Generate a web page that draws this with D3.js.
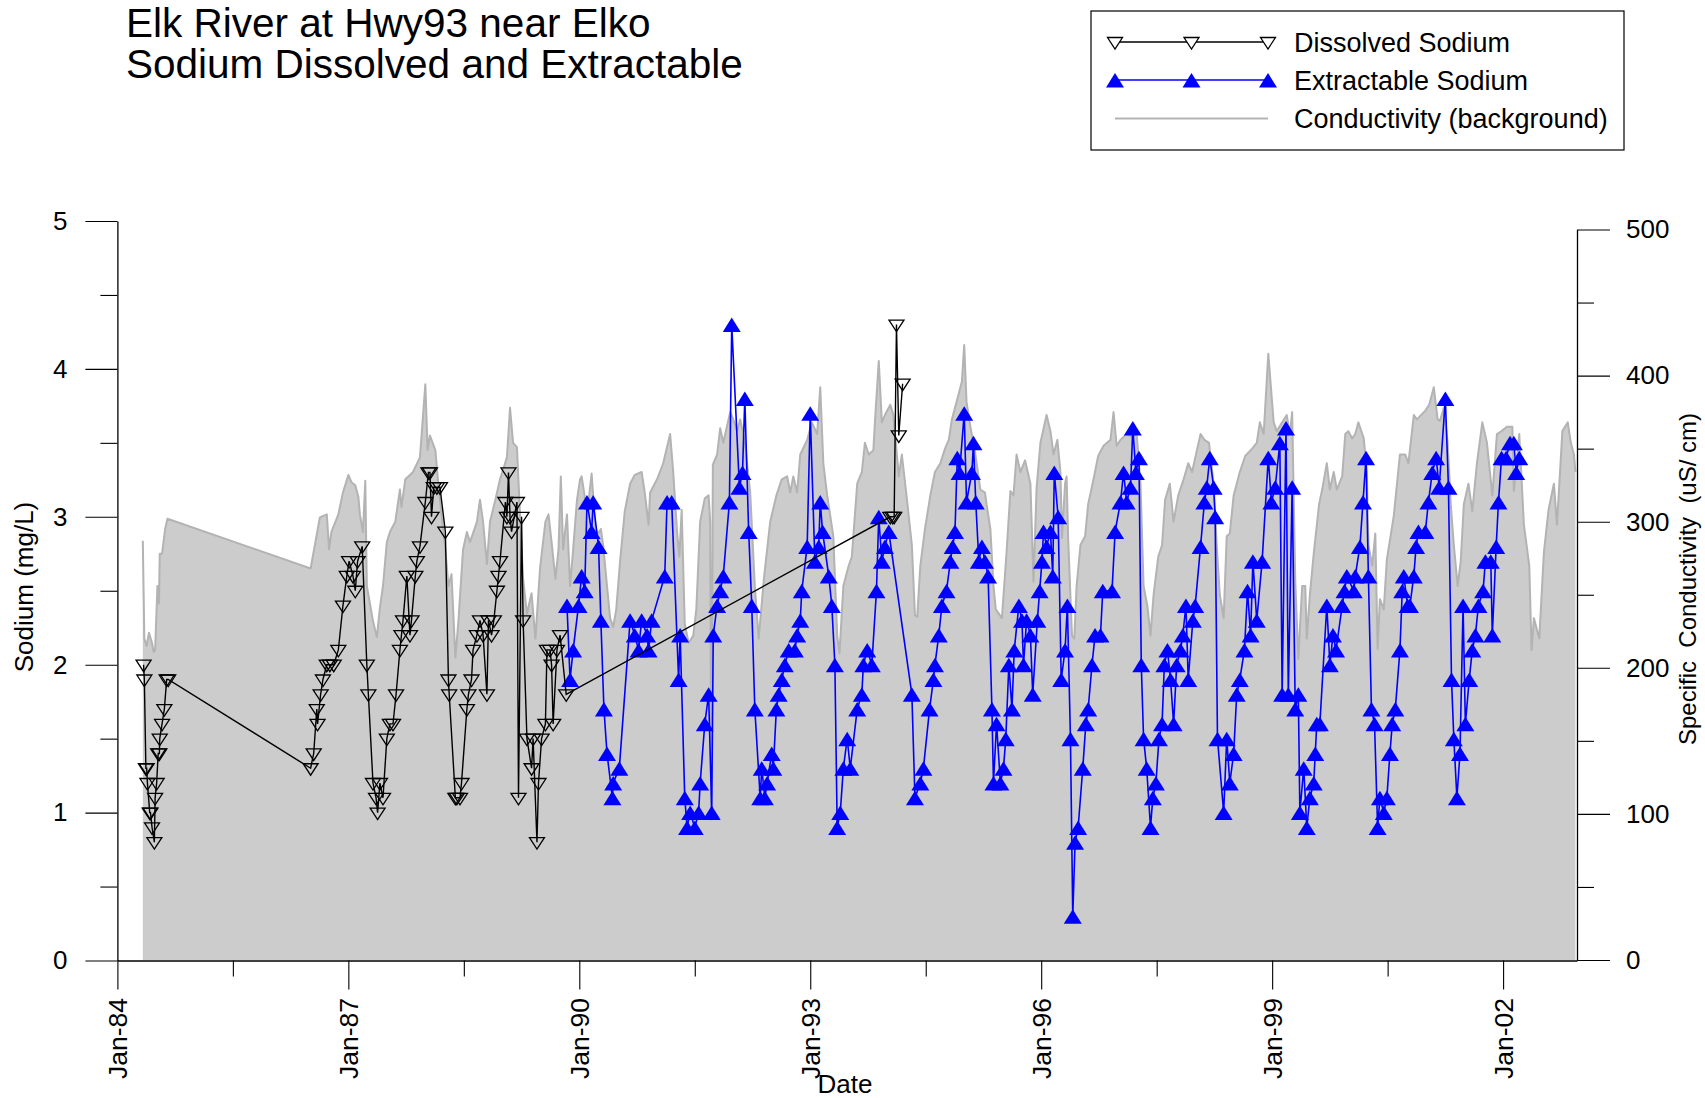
<!DOCTYPE html>
<html><head><meta charset="utf-8">
<script src="https://cdn.jsdelivr.net/npm/d3@7"></script>
<style>
body{margin:0;background:#fff}
svg text{font-family:"Liberation Sans",Arial,Helvetica,sans-serif;fill:#000}
</style>
</head><body>
<svg id="chart" width="1705" height="1098"></svg>
<script>
// ---------------- DATA ----------------
const titleLines = ["Elk River at Hwy93 near Elko", "Sodium Dissolved and Extractable"];
const legendLabels = ["Dissolved Sodium", "Extractable Sodium", "Conductivity (background)"];
const xAxisTitle = "Date";
const leftAxisTitle = "Sodium (mg/L)";
const rightAxisTitle = "Specific\u00a0 Conductivity\u00a0 (uS/ cm)";

const xTickYears = [1984, 1987, 1990, 1993, 1996, 1999, 2002];
const xTickLabels = ["Jan-84", "Jan-87", "Jan-90", "Jan-93", "Jan-96", "Jan-99", "Jan-02"];
const xMinorYears = [1985.5, 1988.5, 1991.5, 1994.5, 1997.5, 2000.5];
const leftTicks = [0, 1, 2, 3, 4, 5];
const leftMinor = [0.5, 1.5, 2.5, 3.5, 4.5];
const rightTicks = [0, 100, 200, 300, 400, 500];
const rightMinor = [50, 150, 250, 350, 450];

// [decimal year, mg/L]
const dissolvedSodium = [
[1984.34,2.0],[1984.35,1.9],[1984.37,1.3],[1984.38,1.3],[1984.39,1.2],[1984.42,1.0],[1984.43,1.0],[1984.45,0.9],[1984.48,0.8],
[1984.49,1.1],[1984.51,1.2],[1984.53,1.4],[1984.545,1.4],[1984.55,1.5],[1984.58,1.6],[1984.61,1.7],[1984.64,1.9],[1984.66,1.9],
[1986.51,1.3],[1986.55,1.4],[1986.59,1.7],[1986.60,1.6],[1986.64,1.8],[1986.67,1.9],[1986.72,2.0],[1986.76,2.0],[1986.81,2.0],
[1986.87,2.1],[1986.93,2.4],[1986.98,2.6],[1987.01,2.7],[1987.06,2.6],[1987.09,2.5],[1987.12,2.7],[1987.18,2.8],[1987.24,2.0],
[1987.26,1.8],[1987.32,1.2],[1987.36,1.1],[1987.38,1.0],[1987.41,1.2],[1987.45,1.1],[1987.50,1.5],[1987.54,1.6],[1987.58,1.6],
[1987.62,1.8],[1987.67,2.1],[1987.69,2.2],[1987.71,2.3],[1987.76,2.6],[1987.80,2.2],[1987.82,2.3],[1987.87,2.6],[1987.89,2.7],
[1987.93,2.8],[1988.00,3.1],[1988.04,3.3],[1988.06,3.3],[1988.08,3.0],[1988.11,3.2],[1988.15,3.2],[1988.19,3.2],[1988.26,2.9],
[1988.30,1.9],[1988.31,1.8],[1988.39,1.1],[1988.41,1.1],[1988.45,1.1],[1988.47,1.2],[1988.54,1.7],[1988.56,1.8],[1988.60,1.9],
[1988.62,2.1],[1988.67,2.2],[1988.71,2.3],[1988.75,2.2],[1988.80,1.8],[1988.82,2.3],[1988.86,2.2],[1988.89,2.3],[1988.93,2.5],
[1988.95,2.6],[1988.97,2.7],[1989.04,3.1],[1989.06,3.0],[1989.08,3.3],[1989.10,3.0],[1989.12,2.9],[1989.19,3.1],[1989.21,1.1],
[1989.25,3.0],[1989.27,2.3],[1989.32,1.5],[1989.38,1.3],[1989.40,1.5],[1989.45,0.8],[1989.47,1.2],[1989.51,1.5],[1989.56,1.6],
[1989.58,2.1],[1989.62,2.1],[1989.64,2.0],[1989.66,1.6],[1989.71,2.1],[1989.75,2.2],[1989.83,1.8],
[1994.04,3.0],[1994.07,3.0],[1994.09,3.0],[1994.12,4.3],[1994.15,3.55],[1994.20,3.9]
];

// [decimal year, mg/L]
const extractableSodium = [
[1989.84,2.4],[1989.88,1.9],[1989.92,2.1],[1989.99,2.4],[1990.03,2.6],[1990.07,2.5],[1990.10,3.1],[1990.16,2.9],[1990.18,3.1],
[1990.25,2.8],[1990.28,2.3],[1990.32,1.7],[1990.36,1.4],[1990.43,1.1],[1990.44,1.2],[1990.52,1.3],[1990.66,2.3],[1990.72,2.2],
[1990.77,2.1],[1990.81,2.3],[1990.88,2.2],[1990.90,2.1],[1990.94,2.3],[1991.11,2.6],[1991.14,3.1],[1991.20,3.1],[1991.29,1.9],
[1991.31,2.2],[1991.37,1.1],[1991.40,0.9],[1991.44,1.0],[1991.50,0.9],[1991.55,1.0],[1991.57,1.2],[1991.63,1.6],[1991.68,1.8],
[1991.72,1.0],[1991.74,2.2],[1991.79,2.4],[1991.83,2.5],[1991.87,2.6],[1991.95,3.1],[1991.98,4.3],[1992.08,3.2],[1992.12,3.3],
[1992.15,3.8],[1992.20,2.9],[1992.24,2.4],[1992.28,1.7],[1992.35,1.1],[1992.37,1.3],[1992.41,1.1],[1992.44,1.2],[1992.50,1.4],
[1992.52,1.3],[1992.56,1.7],[1992.59,1.8],[1992.63,1.9],[1992.67,2.0],[1992.72,2.1],[1992.80,2.1],[1992.83,2.2],[1992.87,2.3],
[1992.89,2.5],[1992.96,2.8],[1993.00,3.7],[1993.06,2.7],[1993.11,2.8],[1993.13,3.1],[1993.16,2.9],[1993.24,2.6],[1993.28,2.4],
[1993.32,2.0],[1993.35,0.9],[1993.39,1.0],[1993.43,1.3],[1993.48,1.5],[1993.52,1.3],[1993.61,1.7],[1993.67,1.8],[1993.69,2.0],
[1993.74,2.1],[1993.80,2.0],[1993.86,2.5],[1993.89,3.0],[1993.93,2.7],[1993.97,2.8],[1994.02,2.9],[1994.32,1.8],[1994.36,1.1],
[1994.43,1.2],[1994.47,1.3],[1994.55,1.7],[1994.60,1.9],[1994.62,2.0],[1994.67,2.2],[1994.71,2.4],[1994.77,2.5],[1994.82,2.7],
[1994.85,2.8],[1994.88,2.9],[1994.91,3.4],[1994.94,3.3],[1995.00,3.7],[1995.03,3.1],[1995.10,3.3],[1995.12,3.5],[1995.15,3.1],
[1995.19,2.7],[1995.23,2.8],[1995.27,2.7],[1995.31,2.6],[1995.36,1.7],[1995.38,1.2],[1995.42,1.6],[1995.47,1.2],[1995.51,1.3],
[1995.54,1.5],[1995.58,2.0],[1995.62,1.7],[1995.65,2.1],[1995.71,2.4],[1995.75,2.3],[1995.77,2.0],[1995.81,2.3],[1995.86,2.2],
[1995.89,1.8],[1995.95,2.3],[1995.98,2.5],[1996.01,2.7],[1996.03,2.9],[1996.07,2.8],[1996.12,2.9],[1996.15,2.6],[1996.17,3.3],
[1996.22,3.0],[1996.26,1.9],[1996.31,2.1],[1996.34,2.4],[1996.38,1.5],[1996.41,0.3],[1996.44,0.8],[1996.48,0.9],[1996.54,1.3],
[1996.58,1.6],[1996.61,1.7],[1996.66,2.0],[1996.70,2.2],[1996.77,2.2],[1996.80,2.5],[1996.92,2.5],[1996.96,2.9],[1997.03,3.1],
[1997.07,3.3],[1997.11,3.1],[1997.16,3.2],[1997.19,3.6],[1997.23,3.3],[1997.27,3.4],[1997.30,2.0],[1997.33,1.5],[1997.37,1.3],
[1997.42,0.9],[1997.45,1.1],[1997.49,1.2],[1997.53,1.5],[1997.57,1.6],[1997.60,2.0],[1997.64,2.1],[1997.68,1.9],[1997.72,1.6],
[1997.76,2.0],[1997.81,2.1],[1997.84,2.2],[1997.88,2.4],[1997.91,1.9],[1997.97,2.3],[1998.00,2.4],[1998.07,2.8],[1998.12,3.1],
[1998.15,3.2],[1998.19,3.4],[1998.24,3.2],[1998.26,3.0],[1998.29,1.5],[1998.37,1.0],[1998.41,1.5],[1998.45,1.2],[1998.50,1.4],
[1998.54,1.8],[1998.58,1.9],[1998.64,2.1],[1998.68,2.5],[1998.72,2.2],[1998.75,2.7],[1998.80,2.3],[1998.87,2.7],[1998.95,3.4],
[1998.99,3.1],[1999.04,3.2],[1999.10,3.5],[1999.13,1.8],[1999.18,3.6],[1999.21,1.8],[1999.26,3.2],[1999.30,1.7],[1999.34,1.8],
[1999.36,1.0],[1999.41,1.3],[1999.45,0.9],[1999.49,1.1],[1999.54,1.2],[1999.56,1.4],[1999.58,1.6],[1999.62,1.6],[1999.71,2.4],
[1999.75,2.0],[1999.79,2.2],[1999.83,2.1],[1999.91,2.4],[1999.94,2.5],[1999.97,2.6],[2000.06,2.5],[2000.08,2.6],[2000.14,2.8],
[2000.18,3.1],[2000.22,3.4],[2000.25,2.6],[2000.29,1.7],[2000.33,1.6],[2000.37,0.9],[2000.40,1.1],[2000.45,1.0],[2000.49,1.1],
[2000.53,1.4],[2000.56,1.6],[2000.60,1.7],[2000.66,2.1],[2000.69,2.5],[2000.71,2.6],[2000.76,2.4],[2000.79,2.4],[2000.84,2.6],
[2000.87,2.8],[2000.90,2.9],[2000.99,2.9],[2001.03,3.1],[2001.08,3.3],[2001.13,3.4],[2001.17,3.2],[2001.25,3.8],[2001.29,3.2],
[2001.33,1.9],[2001.36,1.5],[2001.40,1.1],[2001.44,1.4],[2001.48,2.4],[2001.51,1.6],[2001.56,1.9],[2001.60,2.1],[2001.64,2.2],
[2001.68,2.4],[2001.74,2.5],[2001.77,2.7],[2001.84,2.7],[2001.86,2.2],[2001.91,2.8],[2001.94,3.1],[2001.98,3.4],[2002.04,3.4],
[2002.09,3.5],[2002.14,3.5],[2002.17,3.3],[2002.21,3.4]
];

// [decimal year, uS/cm]
const conductivity = [
[1984.33,287],[1984.35,220],[1984.38,215],[1984.41,224],[1984.45,217],[1984.47,211],[1984.49,212],[1984.52,256],[1984.54,244],
[1984.55,278],[1984.58,278],[1984.62,295],[1984.65,302],[1986.51,268],[1986.63,303],[1986.72,305],[1986.75,281],[1986.78,293],
[1986.87,305],[1986.93,320],[1987.00,332],[1987.04,327],[1987.09,325],[1987.13,317],[1987.15,305],[1987.19,293],[1987.22,328],
[1987.24,256],[1987.28,244],[1987.32,232],[1987.37,221],[1987.41,241],[1987.45,256],[1987.50,286],[1987.54,293],[1987.61,300],
[1987.67,322],[1987.69,310],[1987.74,329],[1987.80,332],[1987.84,334],[1987.93,344],[1988.00,394],[1988.03,349],[1988.06,359],
[1988.13,349],[1988.17,325],[1988.21,305],[1988.26,281],[1988.30,256],[1988.34,264],[1988.39,207],[1988.43,232],[1988.49,281],
[1988.54,293],[1988.58,286],[1988.67,300],[1988.71,315],[1988.75,300],[1988.80,271],[1988.84,300],[1988.91,315],[1988.97,329],
[1989.06,344],[1989.10,378],[1989.14,354],[1989.19,351],[1989.23,305],[1989.27,261],[1989.32,237],[1989.38,251],[1989.43,220],
[1989.49,268],[1989.56,300],[1989.60,305],[1989.64,286],[1989.69,261],[1989.73,281],[1989.76,331],[1989.79,281],[1989.84,305],
[1989.88,256],[1989.92,281],[1989.97,315],[1990.01,329],[1990.03,331],[1990.08,314],[1990.12,314],[1990.16,333],[1990.21,295],
[1990.25,292],[1990.28,295],[1990.31,284],[1990.36,256],[1990.40,234],[1990.44,228],[1990.48,240],[1990.53,273],[1990.59,307],
[1990.66,326],[1990.72,332],[1990.81,334],[1990.85,320],[1990.90,298],[1990.92,320],[1991.01,329],[1991.09,340],[1991.18,360],
[1991.22,334],[1991.27,293],[1991.30,276],[1991.33,308],[1991.37,230],[1991.42,217],[1991.48,222],[1991.52,240],[1991.57,300],
[1991.63,316],[1991.68,318],[1991.70,300],[1991.715,96],[1991.735,339],[1991.79,346],[1991.83,364],[1991.87,354],[1991.96,375],
[1992.00,370],[1992.05,362],[1992.09,370],[1992.15,355],[1992.22,320],[1992.28,256],[1992.33,220],[1992.40,262],[1992.48,300],
[1992.56,318],[1992.63,329],[1992.70,331],[1992.74,320],[1992.78,331],[1992.83,320],[1992.87,346],[1992.96,356],[1993.02,368],
[1993.09,360],[1993.13,392],[1993.17,340],[1993.22,318],[1993.26,304],[1993.30,290],[1993.35,222],[1993.38,210],[1993.43,256],
[1993.50,270],[1993.54,276],[1993.61,326],[1993.67,334],[1993.71,354],[1993.76,346],[1993.82,349],[1993.84,368],[1993.89,410],
[1993.93,368],[1993.97,373],[1994.04,380],[1994.08,373],[1994.15,331],[1994.19,346],[1994.25,318],[1994.32,284],[1994.36,236],
[1994.39,235],[1994.43,270],[1994.49,295],[1994.56,318],[1994.62,334],[1994.69,340],[1994.75,350],[1994.80,356],[1994.84,370],
[1994.90,382],[1994.97,396],[1995.00,421],[1995.03,382],[1995.08,365],[1995.14,348],[1995.21,322],[1995.27,320],[1995.29,312],
[1995.34,295],[1995.38,256],[1995.41,240],[1995.49,234],[1995.55,279],[1995.60,321],[1995.64,318],[1995.68,346],[1995.73,334],
[1995.79,342],[1995.86,326],[1995.90,259],[1995.94,323],[1995.99,354],[1996.07,373],[1996.12,362],[1996.16,346],[1996.21,356],
[1996.25,334],[1996.27,289],[1996.31,326],[1996.33,331],[1996.35,289],[1996.40,222],[1996.43,220],[1996.46,256],[1996.51,284],
[1996.57,290],[1996.61,312],[1996.68,329],[1996.74,345],[1996.81,352],[1996.90,356],[1996.94,375],[1996.98,352],[1997.03,356],
[1997.11,360],[1997.18,358],[1997.24,360],[1997.29,326],[1997.33,256],[1997.38,242],[1997.42,222],[1997.46,250],[1997.52,276],
[1997.57,284],[1997.61,315],[1997.67,326],[1997.72,300],[1997.78,318],[1997.85,329],[1997.91,340],[1997.96,334],[1998.07,360],
[1998.12,356],[1998.18,354],[1998.24,326],[1998.28,284],[1998.32,250],[1998.37,234],[1998.41,290],[1998.45,292],[1998.50,318],
[1998.58,334],[1998.65,345],[1998.74,350],[1998.80,354],[1998.84,368],[1998.89,360],[1998.95,415],[1999.02,368],[1999.06,362],
[1999.13,368],[1999.19,373],[1999.23,360],[1999.26,375],[1999.30,260],[1999.34,206],[1999.39,256],[1999.43,256],[1999.45,220],
[1999.49,250],[1999.54,278],[1999.61,312],[1999.65,322],[1999.71,340],[1999.75,322],[1999.80,334],[1999.84,322],[1999.91,331],
[1999.95,360],[1999.99,362],[2000.04,357],[2000.08,360],[2000.12,368],[2000.19,357],[2000.23,334],[2000.25,284],[2000.30,270],
[2000.34,292],[2000.37,213],[2000.40,247],[2000.45,240],[2000.49,274],[2000.58,304],[2000.66,346],[2000.73,346],[2000.77,340],
[2000.84,373],[2000.88,370],[2000.99,376],[2001.04,380],[2001.10,392],[2001.15,370],[2001.18,369],[2001.23,378],[2001.28,354],
[2001.32,312],[2001.36,284],[2001.41,256],[2001.45,273],[2001.49,312],[2001.55,326],[2001.60,307],[2001.66,340],[2001.73,368],
[2001.79,354],[2001.86,318],[2001.92,360],[2001.98,362],[2002.05,365],[2002.12,365],[2002.14,321],[2002.21,360],[2002.27,298],
[2002.34,270],[2002.37,212],[2002.40,234],[2002.47,220],[2002.53,279],[2002.59,308],[2002.66,326],[2002.70,298],[2002.77,362],
[2002.84,368],[2002.88,354],[2002.92,346],[2002.94,334]
];

// ---------------- CHART ----------------
const svg = d3.select("#chart");
const x = d3.scaleLinear().domain([1984, 2002.96]).range([117.4, 1577]);
const yL = d3.scaleLinear().domain([0, 5]).range([960.5, 221]);
const yR = d3.scaleLinear().domain([0, 500]).range([960, 229.5]);

// conductivity background
svg.append("path").datum(conductivity)
  .attr("fill", "#cccccc")
  .attr("d", d3.area().x(d => x(d[0])).y0(yR(0)).y1(d => yR(d[1])));
svg.append("path").datum(conductivity)
  .attr("fill", "none").attr("stroke", "#b3b3b3").attr("stroke-width", 2)
  .attr("stroke-linejoin", "round")
  .attr("d", d3.line().x(d => x(d[0])).y(d => yR(d[1])));

// axes
function styleAxis(g) {
  g.selectAll("path.domain").attr("stroke", "#000").attr("stroke-width", 1.3);
  g.selectAll(".tick line").attr("stroke", "#000").attr("stroke-width", 1.1);
  g.selectAll("text").attr("font-size", 26).attr("font-family", '"Liberation Sans", Arial, sans-serif').attr("fill", "#000");
}
const gL = svg.append("g").attr("transform", "translate(117.4,0)")
  .call(d3.axisLeft(yL).tickValues(leftTicks).tickSize(32).tickPadding(18).tickSizeOuter(0).tickFormat(d3.format("d")));
styleAxis(gL);
const gLm = svg.append("g").attr("transform", "translate(117.4,0)")
  .call(d3.axisLeft(yL).tickValues(leftMinor).tickSize(17).tickFormat(""));
gLm.select("path.domain").remove(); styleAxis(gLm);

const gR = svg.append("g").attr("transform", "translate(1577,0)")
  .call(d3.axisRight(yR).tickValues(rightTicks).tickSize(33).tickPadding(16).tickSizeOuter(0).tickFormat(d3.format("d")));
styleAxis(gR);
const gRm = svg.append("g").attr("transform", "translate(1577,0)")
  .call(d3.axisRight(yR).tickValues(rightMinor).tickSize(17).tickFormat(""));
gRm.select("path.domain").remove(); styleAxis(gRm);

const gB = svg.append("g").attr("transform", "translate(0,960.5)")
  .call(d3.axisBottom(x).tickValues(xTickYears).tickSize(29).tickSizeOuter(0).tickFormat(""));
styleAxis(gB);
const gBm = svg.append("g").attr("transform", "translate(0,960.5)")
  .call(d3.axisBottom(x).tickValues(xMinorYears).tickSize(16).tickFormat(""));
gBm.select("path.domain").remove(); styleAxis(gBm);

// rotated date labels
svg.append("g").selectAll("text").data(xTickYears).join("text")
  .attr("transform", d => `translate(${x(d) + 9.5},998) rotate(-90)`)
  .attr("text-anchor", "end").attr("font-size", 26.5)
  .text((d, i) => xTickLabels[i]);

// axis titles
svg.append("text").attr("x", 845).attr("y", 1093).attr("text-anchor", "middle")
  .attr("font-size", 26).text(xAxisTitle);
svg.append("text").attr("transform", "translate(33,587) rotate(-90)").attr("text-anchor", "middle")
  .attr("font-size", 26).text(leftAxisTitle);
svg.append("text").attr("transform", "translate(1696,579) rotate(-90)").attr("text-anchor", "middle")
  .attr("font-size", 24).text(rightAxisTitle);

// markers
const downTri = "M-7.5,-4.5L7.5,-4.5L0,7Z";
const upTri = "M0,-7L9,7.5L-9,7.5Z";

// extractable (blue)
svg.append("path").datum(extractableSodium)
  .attr("fill", "none").attr("stroke", "#0000ff").attr("stroke-width", 1.6)
  .attr("d", d3.line().x(d => x(d[0])).y(d => yL(d[1])));
svg.append("g").selectAll("path").data(extractableSodium).join("path")
  .attr("transform", d => `translate(${x(d[0])},${yL(d[1])})`)
  .attr("d", upTri).attr("fill", "#0000ff");

// dissolved (black)
svg.append("path").datum(dissolvedSodium)
  .attr("fill", "none").attr("stroke", "#000").attr("stroke-width", 1.4)
  .attr("d", d3.line().x(d => x(d[0])).y(d => yL(d[1])));
svg.append("g").selectAll("path").data(dissolvedSodium).join("path")
  .attr("transform", d => `translate(${x(d[0])},${yL(d[1])})`)
  .attr("d", downTri).attr("fill", "none").attr("stroke", "#000").attr("stroke-width", 1.3);

// title
svg.append("g").selectAll("text").data(titleLines).join("text")
  .attr("x", 126).attr("y", (d, i) => 36.5 + i * 41.5)
  .attr("font-size", 40.5).text(d => d);

// legend
const lg = svg.append("g");
lg.append("rect").attr("x", 1091).attr("y", 11).attr("width", 533).attr("height", 139)
  .attr("fill", "#fff").attr("stroke", "#000").attr("stroke-width", 1.2);
const legendRowsY = [42, 80, 118.5];
const legendMarkX = [1115, 1191.5, 1268];
lg.append("line").attr("x1", 1115).attr("x2", 1268).attr("y1", legendRowsY[0]).attr("y2", legendRowsY[0])
  .attr("stroke", "#000").attr("stroke-width", 1.4);
lg.selectAll("path.d").data(legendMarkX).join("path").attr("class", "d")
  .attr("transform", d => `translate(${d},${legendRowsY[0]})`)
  .attr("d", downTri).attr("fill", "#fff").attr("stroke", "#000").attr("stroke-width", 1.3);
lg.append("line").attr("x1", 1115).attr("x2", 1268).attr("y1", legendRowsY[1]).attr("y2", legendRowsY[1])
  .attr("stroke", "#0000ff").attr("stroke-width", 1.6);
lg.selectAll("path.e").data(legendMarkX).join("path").attr("class", "e")
  .attr("transform", d => `translate(${d},${legendRowsY[1]})`)
  .attr("d", upTri).attr("fill", "#0000ff");
lg.append("line").attr("x1", 1115).attr("x2", 1268).attr("y1", legendRowsY[2]).attr("y2", legendRowsY[2])
  .attr("stroke", "#b3b3b3").attr("stroke-width", 2);
lg.selectAll("text").data(legendLabels).join("text")
  .attr("x", 1294).attr("y", (d, i) => legendRowsY[i] + 9.5)
  .attr("font-size", 27).text(d => d);
</script>
</body></html>
